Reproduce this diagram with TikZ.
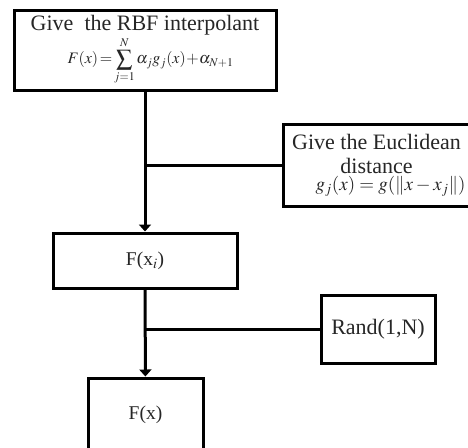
\documentclass[tikz,border=0pt]{standalone}
\usepackage{amsmath}
\usepackage{mathptmx}
\usepackage[no-math]{fontspec}
\setmainfont{Liberation Serif}
\usetikzlibrary{arrows.meta}

\tikzset{
  block/.style={draw, line width=3pt, align=center, text=black!85, inner sep=0pt,
    font=\fontsize{22}{24}\selectfont},
  link/.style={line width=3pt},
  flow/.style={line width=3pt, -{Triangle[width=12pt,length=7pt]}}
}

\begin{document}
\begin{tikzpicture}[x=1pt,y=-1pt]
  \useasboundingbox (0,0) rectangle (468,447);

  \draw (145,50)  node (rbf) [block, minimum width=262pt, minimum height=80pt]
    {Give\ \ the RBF interpolant\\[1pt]
     \hspace*{11pt}{\fontsize{16}{18}\selectfont$\displaystyle F(x)\!=\!\sum_{j=1}^{N}\alpha_j g_j(x)\!+\!\alpha_{N+1}$}};

  \draw (376.5,165) node (eucl) [block, minimum width=187pt, minimum height=82pt]
    {Give the Euclidean\\ distance\\[-7pt]
     \hspace*{28pt}{\fontsize{19}{20}\selectfont$g_j(x)=g(\|x-x_j\|)$}};

  \draw (145,260.5) node (fxi) [block, minimum width=184pt, minimum height=55pt,
    font=\fontsize{19.5}{22}\selectfont] {F(x$_i$)};
  \draw (378,329)   node (rand) [block, minimum width=114pt, minimum height=68pt] {Rand(1,N)};
  \draw (145.5,415) node (fx) [block, minimum width=115pt, minimum height=74pt,
    font=\fontsize{19.5}{22}\selectfont] {F(x)};

  \coordinate (j1) at (145,165);
  \coordinate (j2) at (145,329);

  \draw[flow] (rbf) -- (fxi);
  \draw[link] (eucl) -- (j1);
  \draw[flow] (fxi) -- (fx);
  \draw[link] (rand) -- (j2);
\end{tikzpicture}
\end{document}
